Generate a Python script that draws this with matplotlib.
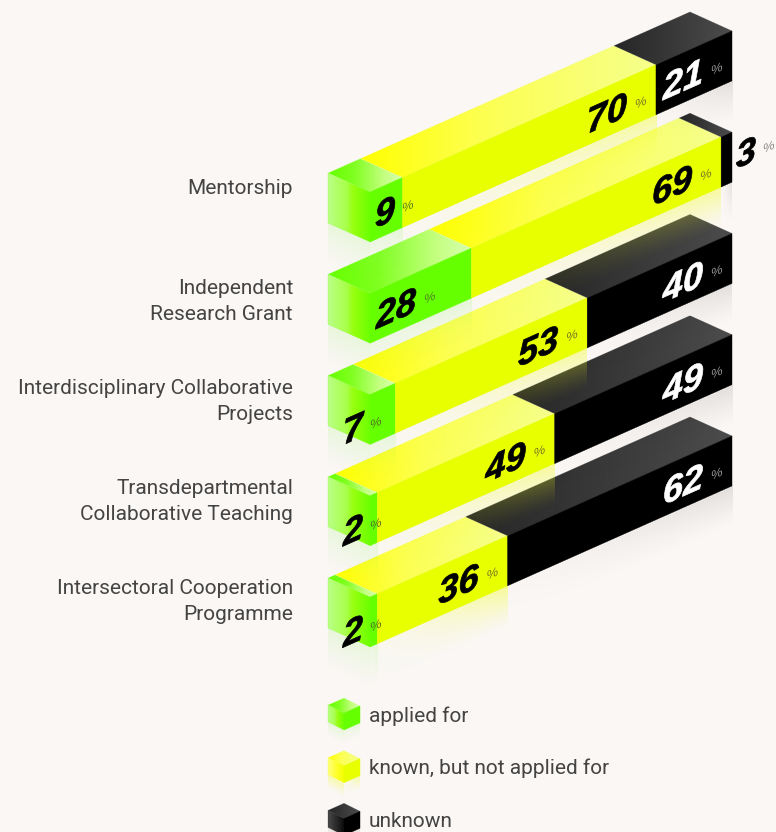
import numpy as np
import matplotlib
matplotlib.use('Agg')
import matplotlib.pyplot as plt
from matplotlib.patches import Polygon
from matplotlib.patheffects import AbstractPathEffect
from matplotlib.transforms import Affine2D

categories = ['Mentorship', 'Independent\nResearch Grant', 'Interdisciplinary Collaborative\nProjects',
              'Transdepartmental\nCollaborative Teaching', 'Intersectoral Cooperation\nProgramme']
applied = [9, 28, 7, 2, 2]
known = [70, 69, 53, 49, 36]
unknown = [21, 3, 40, 49, 62]
legend_labels = ['applied for', 'known, but not applied for', 'unknown']

BG = '#faf7f4'
SLOPE = 0.445
PX = 3.62       # pixels per percent along the bar
DX, DY = -42, -19       # depth of the box
H = 50
GREEN = dict(top=[(0, '#66ff00'), (0.35, '#80ff20'), (0.75, '#c4ff80'), (1, '#d8ffb0')],
             left=[(0, '#baff88'), (0.45, '#a8ff48'), (0.6, '#98ff10'), (1, '#6cff00')],
             front='#66ff00', glow=(0.55, 0.95, 0.35, 0.2), ramp=0.6)
YELLOW = dict(top=[(0, '#ffff00'), (0.4, '#fdff50'), (1, '#f6ff8c')],
              left=[(0, '#ffff80'), (0.5, '#ffff30'), (1, '#f2ff00')],
              front='#e8ff00', glow=(0.95, 1.0, 0.1, 0.42), ramp=0.05)
BLACK = dict(top=[(0, '#262626'), (1, '#4c4c4c')],
             left=[(0, '#4a4a4a'), (1, '#0c0c0c')],
             front='#000000', glow=(0.0, 0.0, 0.0, 0.1), ramp=0.1)


class Shear(AbstractPathEffect):
    # puts text on the sloped front face, real text stays real
    def __init__(self, ax, x, y, stroke=0.0):
        super().__init__()
        self.ax, self.x, self.y, self.stroke = ax, x, y, stroke

    def draw_path(self, renderer, gc, tpath, affine, rgbFace=None):
        cx, cy = self.ax.transData.transform((self.x, self.y))
        sh = Affine2D().translate(-cx, -cy) + Affine2D.from_values(1, SLOPE, 0, 1, 0, 0) + Affine2D().translate(cx, cy)
        gc0 = renderer.new_gc()
        gc0.copy_properties(gc)
        if self.stroke:
            gc0.set_linewidth(self.stroke)
            gc0.set_foreground(rgbFace)
        renderer.draw_path(gc0, tpath, affine + sh, rgbFace)
        gc0.restore()


def hex_rgb(c):
    return matplotlib.colors.to_rgb(c)


def gradient_face(ax, pts, stops, z):
    pts = np.array(pts, dtype=float)
    x0, x1 = pts[:, 0].min(), pts[:, 0].max()
    y0, y1 = pts[:, 1].min(), pts[:, 1].max()
    t = np.linspace(0, 1, 256)
    pos = [s[0] for s in stops]
    rgb = np.array([hex_rgb(s[1]) for s in stops])
    arr = np.stack([np.interp(t, pos, rgb[:, i]) for i in range(3)], axis=1)[None, :, :]
    im = ax.imshow(arr, extent=[x0, x1, y1, y0], aspect='auto', interpolation='bilinear', zorder=z)
    im.set_clip_path(Polygon(pts, transform=ax.transData))
    ax.add_patch(Polygon(pts, closed=True, fc='none', ec=stops[-1][1], lw=0.3, alpha=0.5, zorder=z))


def glow(ax, p0, p1, depth, rgba, z, ramp=1.0):
    # fading reflection under an edge p0-p1, stronger towards the right end
    x0, x1 = p0[0], p1[0]
    y0, y1 = min(p0[1], p1[1]), max(p0[1], p1[1]) + depth
    xs = np.linspace(x0, x1, 60)
    ys = np.linspace(y0, y1, int(y1 - y0) + 2)
    X, Y = np.meshgrid(xs, ys)
    edge = p0[1] + (p1[1] - p0[1]) * (X - x0) / (x1 - x0)
    d = (Y - edge) / depth
    across = ramp + (1 - ramp) * ((X - x0) / (x1 - x0)) ** 1.5
    a = np.clip(1 - d, 0, 1) ** 1.3 * rgba[3] * across
    a[d < 0] = 0
    arr = np.zeros(X.shape + (4,))
    arr[..., :3] = rgba[:3]
    arr[..., 3] = a
    ax.imshow(arr, extent=[x0, x1, y1, y0], aspect='auto', interpolation='bilinear', zorder=z)


def draw_box(ax, fx, fy, dx, dy, h, widths, styles, z, depth):
    # fx, fy = front top vertex; widths in pixels along the bar
    pos = 0
    for w, st in zip(widths, styles):
        if w == 0:
            continue
        a = (fx + pos, fy - SLOPE * pos)
        b = (fx + pos + w, fy - SLOPE * (pos + w))
        glow(ax, (a[0], a[1] + h), (b[0], b[1] + h), depth, st['glow'], z, st['ramp'])
        gradient_face(ax, [a, b, (b[0] + dx, b[1] + dy), (a[0] + dx, a[1] + dy)], st['top'], z + 1)
        ax.add_patch(Polygon([a, b, (b[0], b[1] + h), (a[0], a[1] + h)], closed=True, fc=st['front'], ec=st['front'], lw=0.3, zorder=z + 2))
        pos += w
    st = styles[0]
    left = (fx + dx, fy + dy)
    glow(ax, (left[0], left[1] + h), (fx, fy + h), depth, st['glow'][:3] + (st['glow'][3] * 0.8,), z)
    gradient_face(ax, [left, (fx, fy), (fx, fy + h), (left[0], left[1] + h)], st['left'], z + 2)


def sheared_text(ax, x, y, s, z, size=26, color='black', weight='bold', style='italic', stroke=0.5):
    t = ax.text(x, y, s, ha='center', va='center', fontsize=size, color=color, family='Liberation Sans',
                fontweight=weight, fontstyle=style, zorder=z)
    t.set_path_effects([Shear(ax, x, y, stroke)])
    return t


def put_value(ax, fy, right_px, value, z, color, pct_color):
    # right_px = right edge of the number, in figure pixels
    w = 40 if value >= 10 else 18
    cx = right_px - w / 2
    line_y = fy - SLOPE * (cx - 370) + H / 2 + 4
    sheared_text(ax, cx, line_y, str(value), z, color=color)
    px = right_px + 14
    sheared_text(ax, px, fy - SLOPE * (px - 370) + H / 2 + 7, '%', z, size=9, color=pct_color, weight='normal', style='normal', stroke=0)


fig = plt.figure(figsize=(7.76, 8.32), dpi=100, facecolor=BG)
ax = fig.add_axes([0, 0, 1, 1])
ax.set_xlim(0, 776)
ax.set_ylim(832, 0)
ax.set_autoscale_on(False)
ax.axis('off')

# lower rows first so the reflections of upper rows sit on top of them
for i in reversed(range(len(categories))):
    fy = 192 + 101.25 * i
    z = 10 + (len(categories) - i) * 5
    a, k, u = applied[i], known[i], unknown[i]
    draw_box(ax, 370, fy, DX, DY, H, [a * PX, k * PX, u * PX], [GREEN, YELLOW, BLACK], z, 42)

    if a < 9:
        put_value(ax, fy, 362, a, z + 4, 'black', '#4f7020')
    else:
        w = 40 if a >= 10 else 18
        put_value(ax, fy, 376 + w, a, z + 4, 'black', '#4f8020')
    end_k = 370 + (a + k) * PX
    put_value(ax, fy, end_k - 29, k, z + 4, 'black', '#757525')
    end_u = 370 + (a + k + u) * PX
    if u < 5:
        put_value(ax, fy, end_u + 23, u, z + 4, 'black', '#888888')
    else:
        put_value(ax, fy, end_u - 29, u, z + 4, 'white', '#999999')

    lines = categories[i].count('\n')
    ax.text(293, 188 + 100 * i + 13.5 * lines, categories[i], ha='right', va='center', ma='right',
            fontsize=15.0, family='Roboto', color='#444444', linespacing=1.4, zorder=3)

# legend
for j, (lab, st) in enumerate(zip(legend_labels, [GREEN, YELLOW, BLACK])):
    fy = 713 + 52.7 * j
    draw_box(ax, 344, fy, -16, -8, 17, [16], [st], 60, 15)
    ax.text(369, 716 + 52.7 * j, lab, ha='left', va='center', fontsize=15.0, family='Roboto',
            color='#444444', zorder=3)

fig.savefig('out.png', dpi=100, facecolor=BG)
